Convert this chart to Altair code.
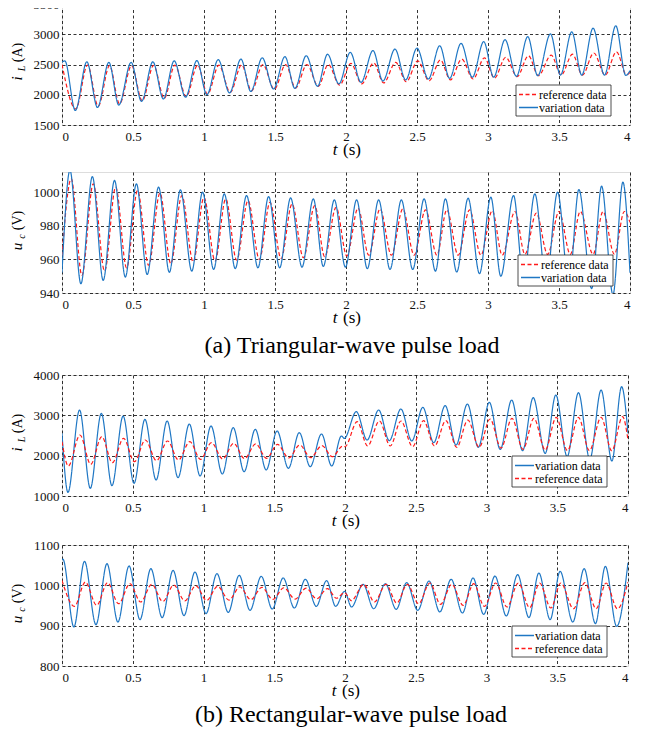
import altair as alt
import pandas as pd

FONT = "'Liberation Serif', 'Times New Roman', Times, serif"
BLUE = "#1f77c4"
RED = "#ff1a1a"
T_TICKS = [0, 0.5, 1, 1.5, 2, 2.5, 3, 3.5, 4]

# ---------------- (a) triangular-wave pulse load : i_L ----------------
a_iL_t_var = [0, 0.02, 0.094, 0.175, 0.25, 0.33, 0.40, 0.487, 0.56, 0.64, 0.714, 0.79, 0.87, 0.95,
              1.02, 1.10, 1.18, 1.26, 1.33, 1.41, 1.49, 1.57, 1.64, 1.72, 1.80, 1.87, 1.95, 2.03,
              2.106, 2.19, 2.26, 2.345, 2.42, 2.50, 2.58, 2.66, 2.73, 2.81, 2.89, 2.97, 3.04, 3.12,
              3.20, 3.28, 3.35, 3.44, 3.51, 3.59, 3.66, 3.74, 3.82, 3.90, 3.97, 4.0]
a_iL_var = [2540, 2560, 1740, 2545, 1790, 2535, 1830, 2535, 1890, 2545, 1930, 2560, 1960, 2565,
            2000, 2580, 2030, 2590, 2055, 2610, 2095, 2630, 2105, 2645, 2140, 2670, 2180, 2700,
            2205, 2730, 2227, 2755, 2245, 2770, 2260, 2810, 2270, 2850, 2290, 2877, 2290, 2910,
            2305, 2960, 2315, 3005, 2325, 3040, 2325, 3100, 2325, 3140, 2320, 2400]
a_iL_t_ref = [0, 0.097, 0.18, 0.255, 0.335, 0.405, 0.49, 0.565, 0.645, 0.72, 0.795, 0.875, 0.955,
              1.025, 1.105, 1.185, 1.265, 1.335, 1.415, 1.495, 1.575, 1.645, 1.725, 1.805, 1.875,
              1.955, 2.035, 2.11, 2.195, 2.265, 2.35, 2.425, 2.505, 2.585, 2.665, 2.735, 2.815,
              2.895, 2.975, 3.045, 3.125, 3.205, 3.285, 3.355, 3.445, 3.515, 3.595, 3.665, 3.745,
              3.825, 3.905, 3.975, 4.0]
a_iL_ref = [2500, 1765, 2490, 1810, 2480, 1850, 2480, 1900, 2485, 1940, 2490, 1970, 2490,
            2010, 2490, 2040, 2495, 2065, 2500, 2090, 2500, 2110, 2500, 2140, 2500,
            2160, 2520, 2180, 2525, 2195, 2535, 2215, 2560, 2230, 2575, 2245, 2590,
            2260, 2610, 2275, 2620, 2300, 2645, 2315, 2655, 2325, 2670, 2325, 2690,
            2325, 2710, 2330, 2370]

# ---------------- (a) triangular-wave pulse load : u_c ----------------
a_uc_t_var = [0, 0.056, 0.133, 0.214, 0.29, 0.37, 0.446, 0.524, 0.60, 0.68, 0.756, 0.834, 0.914,
              0.99, 1.068, 1.143, 1.22, 1.30, 1.38, 1.455, 1.533, 1.61, 1.69, 1.77, 1.84, 1.918,
              1.996, 2.075, 2.15, 2.23, 2.31, 2.39, 2.47, 2.55, 2.63, 2.70, 2.78, 2.86, 2.94,
              3.02, 3.09, 3.18, 3.25, 3.33, 3.41, 3.49, 3.57, 3.64, 3.73, 3.80, 3.88, 3.95, 4.0]
a_uc_var = [952, 1013, 945.5, 1009.3, 947.5, 1007, 949.5, 1005, 951, 1003, 952.3, 1001.4, 953,
            1000, 954, 999, 954.5, 998, 955, 997.4, 955, 996.6, 955.4, 996, 955.8, 995.4,
            955.4, 995.4, 954.5, 995.4, 954, 995.4, 954, 996, 953, 996, 952.5, 996.4, 951.5,
            997, 950, 998, 948.5, 999, 947, 1000, 945, 1001.6, 942.6, 1003.6, 939, 1006, 952]
a_uc_t_ref = [0, 0.065, 0.14, 0.22, 0.30, 0.378, 0.455, 0.532, 0.61, 0.69, 0.766, 0.844, 0.924,
              1.0, 1.078, 1.153, 1.23, 1.31, 1.39, 1.465, 1.543, 1.62, 1.70, 1.78, 1.85, 1.93,
              2.006, 2.085, 2.16, 2.24, 2.32, 2.40, 2.48, 2.56, 2.64, 2.71, 2.79, 2.87, 2.95,
              3.03, 3.10, 3.19, 3.26, 3.34, 3.42, 3.50, 3.58, 3.65, 3.74, 3.81, 3.89, 3.96, 4.0]
a_uc_ref = [962, 1008, 950.5, 1005, 953, 1003, 955, 1001, 956.5, 999.5, 957.5, 998, 958.5,
            997, 959, 996, 959.5, 995, 960, 994, 960.5, 993, 961, 992, 961.5, 991,
            962, 990.5, 962.5, 990, 962.5, 990, 962.5, 989.5, 962.5, 989.5, 962.5, 989.5, 962.5,
            989, 962.5, 988.5, 963, 987.5, 963, 988.5, 963, 988.5, 963, 988.5, 963, 988.5, 982]

# ---------------- (b) rectangular-wave pulse load : i_L ----------------
b_iL_t_var = [0, 0.042, 0.124, 0.2, 0.278, 0.353, 0.432, 0.509, 0.586, 0.665, 0.743, 0.82, 0.9,
              0.976, 1.053, 1.133, 1.21, 1.287, 1.366, 1.443, 1.52, 1.6, 1.677, 1.754, 1.834,
              1.906, 1.975, 1.995, 2.08, 2.156, 2.238, 2.313, 2.395, 2.472, 2.55, 2.627, 2.708,
              2.785, 2.865, 2.942, 3.02, 3.097, 3.178, 3.255, 3.33, 3.415, 3.49, 3.57, 3.65,
              3.73, 3.81, 3.886, 3.955, 4.0]
b_iL_var = [2553, 1090, 3132, 1190, 3050, 1256, 2983, 1314, 2900, 1397, 2860, 1455, 2785,
            1496, 2736, 1545, 2694, 1603, 2653, 1645, 2612, 1686, 2570, 1727, 2537,
            1744, 2488, 2430, 3091, 2388, 3132, 2372, 3157, 2364, 3198, 2322, 3240,
            2264, 3281, 2207, 3322, 2157, 3380, 2124, 3438, 2058, 3504, 1975, 3562,
            1909, 3628, 1868, 3711, 2553]
b_iL_t_ref = [0, 0.045, 0.127, 0.203, 0.281, 0.356, 0.435, 0.512, 0.589, 0.668, 0.746, 0.823,
              0.903, 0.979, 1.056, 1.136, 1.213, 1.29, 1.369, 1.446, 1.523, 1.603, 1.68, 1.757,
              1.837, 1.91, 1.985, 2.0, 2.086, 2.16, 2.243, 2.32, 2.395, 2.478, 2.555, 2.633,
              2.713, 2.79, 2.868, 2.948, 3.025, 3.103, 3.18, 3.258, 3.335, 3.415, 3.493, 3.572,
              3.65, 3.727, 3.81, 3.885, 3.962, 4.0]
b_iL_ref = [2347, 1744, 2512, 1785, 2471, 1826, 2430, 1851, 2388, 1876, 2364, 1893,
            2347, 1909, 2322, 1917, 2306, 1926, 2290, 1934, 2281, 1942, 2264, 1950,
            2248, 1975, 2240, 2225, 2843, 2240, 2860, 2240, 2860, 2223, 2868, 2240,
            2868, 2207, 2884, 2207, 2909, 2190, 2926, 2157, 2926, 2140, 2950, 2124,
            2950, 2124, 2950, 2124, 2967, 2388]

# ---------------- (b) rectangular-wave pulse load : u_c ----------------
b_uc_t_var = [0, 0.006, 0.084, 0.159, 0.24, 0.318, 0.395, 0.474, 0.551, 0.628, 0.708, 0.785,
              0.862, 0.94, 1.018, 1.095, 1.175, 1.252, 1.329, 1.408, 1.486, 1.563, 1.642, 1.72,
              1.797, 1.87, 1.934, 1.997, 2.046, 2.128, 2.203, 2.285, 2.362, 2.436, 2.514, 2.594,
              2.67, 2.75, 2.83, 2.905, 2.98, 3.06, 3.14, 3.22, 3.30, 3.37, 3.45, 3.52, 3.61,
              3.69, 3.77, 3.84, 3.92, 4.0]
b_uc_var = [1063, 1065, 896.7, 1059.5, 902.5, 1053.7, 909, 1048, 915, 1041.3, 920, 1037,
            925, 1033, 930, 1029, 933, 1024.8, 938, 1022.3, 941.3, 1018.2, 943.8, 1015,
            948, 1011.5, 948, 985, 946.3, 1002.5, 942, 1004, 940.5, 1006.6, 938, 1010.7,
            934, 1015, 931.4, 1018.2, 928, 1023, 924, 1026.4, 920, 1030.6, 915, 1034.7, 909,
            1041.3, 905, 1047, 898.3, 1056]
b_uc_t_ref = [0, 0.088, 0.165, 0.245, 0.322, 0.40, 0.48, 0.556, 0.634, 0.712, 0.79, 0.868,
              0.946, 1.022, 1.10, 1.18, 1.257, 1.334, 1.413, 1.49, 1.568, 1.647, 1.725, 1.80,
              1.875, 1.94, 1.997, 2.045, 2.132, 2.208, 2.29, 2.366, 2.44, 2.52, 2.60, 2.675,
              2.755, 2.835, 2.91, 2.985, 3.065, 3.145, 3.225, 3.305, 3.375, 3.455, 3.525, 3.615,
              3.695, 3.775, 3.845, 3.925, 4.0]
b_uc_ref = [1012, 948, 1008, 950.4, 1006.6, 954.5, 1004, 958.7, 1002.5, 960, 1000.5, 961.5,
            999, 962.5, 997.5, 963.5, 996, 964.5, 995, 965, 994, 966, 993, 966.5,
            992, 968, 982, 962, 1002.5, 958.7, 1002.5, 956, 1002.5, 954.5, 1005.8, 953,
            1002.5, 950.4, 1004, 948, 1005.8, 946.3, 1005.8, 944.6, 1005.8, 943.8, 1005.8, 942,
            1006.6, 942, 1005.8, 942, 1008]

COLORS = {"reference data": RED, "variation data": BLUE}
DASHES = {"reference data": [4, 2.5], "variation data": [1, 0]}
ONE = alt.Data(values=[{}])


def txt(text, x, y, size, italic=False, angle=0, baseline="middle", align="center"):
    return alt.Chart(ONE).mark_text(
        text=text, font=FONT, fontSize=size, fontStyle="italic" if italic else "normal",
        angle=angle, align=align, baseline=baseline, color="black"
    ).encode(x=alt.value(x), y=alt.value(y))


def legend_layers(x0, y0, entries):
    out = [alt.Chart(ONE).mark_rect(fill="white", stroke="#222", strokeWidth=0.8).encode(
        x=alt.value(x0), x2=alt.value(x0 + 95), y=alt.value(y0), y2=alt.value(y0 + 31))]
    for i, name in enumerate(entries):
        yy = y0 + 9.5 + 13 * i
        out.append(alt.Chart(ONE).mark_rule(strokeWidth=1.5).encode(
            x=alt.value(x0 + 3), x2=alt.value(x0 + 22), y=alt.value(yy),
            color=alt.value(COLORS[name]), strokeDash=alt.value(DASHES[name])))
        out.append(txt(name, x0 + 23, yy, 12, align="left"))
    return out


def panel(t_var, y_var, t_ref, y_ref, ydom, yticks, order, width, height,
          ymain, ysub, yunit, tx, legxy, caption=None, cap_dy=57):
    rows = []
    for name in order:
        ts, ys = (t_var, y_var) if name == "variation data" else (t_ref, y_ref)
        rows += [{"t": a, "v": b, "series": name} for a, b in zip(ts, ys)]
    df = pd.DataFrame(rows)
    axis_common = dict(title=None, grid=True, gridColor="black", gridDash=[3, 2.5],
                       gridWidth=0.8, gridOpacity=1, ticks=False, domain=False,
                       labelFont=FONT, labelFontSize=13, labelColor="#111")
    lines = alt.Chart(df).mark_line(interpolate="monotone", strokeWidth=1.2, clip=True).encode(
        x=alt.X("t:Q", scale=alt.Scale(domain=[0, 4], nice=False, zero=False),
                axis=alt.Axis(values=T_TICKS, format="~g", labelPadding=5, **axis_common)),
        y=alt.Y("v:Q", scale=alt.Scale(domain=ydom, nice=False, zero=False),
                axis=alt.Axis(values=yticks, format="d", labelPadding=3, **axis_common)),
        color=alt.Color("series:N", scale=alt.Scale(domain=order,
                        range=[COLORS[o] for o in order]), legend=None),
        strokeDash=alt.StrokeDash("series:N", scale=alt.Scale(domain=order,
                                  range=[DASHES[o] for o in order]), legend=None),
    )
    h2 = height / 2
    layers = [
        lines,
        txt(ymain, tx, h2 + 14, 15, italic=True, angle=270),
        txt(ysub, tx + 5, h2 + 4, 10, italic=True, angle=270),
        txt(yunit, tx + 1, h2 - 12, 14, angle=270),
        txt("t", width / 2 - 11, height + 30, 17, italic=True, baseline="alphabetic"),
        txt("(s)", width / 2 + 6, height + 30, 17, baseline="alphabetic"),
    ]
    layers += legend_layers(legxy[0], legxy[1], order)
    if caption:
        layers.append(txt(caption, width / 2 + 6, height + cap_dy, 24, baseline="alphabetic"))
    return alt.layer(*layers).properties(width=width, height=height)


REF_FIRST = ["reference data", "variation data"]
VAR_FIRST = ["variation data", "reference data"]

p1 = panel(a_iL_t_var, a_iL_var, a_iL_t_ref, a_iL_ref, [1500, 3500],
           [1500, 2000, 2500, 3000, 3500], REF_FIRST, 568, 121, "i", "L", "(A)", -45, (454, 81))
p2 = panel(a_uc_t_var, a_uc_var, a_uc_t_ref, a_uc_ref, [940, 1012],
           [940, 960, 980, 1000], REF_FIRST, 568, 121, "u", "c", "(V)", -45, (456, 83),
           caption="(a) Triangular-wave pulse load", cap_dy=60)
p3 = panel(b_iL_t_var, b_iL_var, b_iL_t_ref, b_iL_ref, [1000, 4000],
           [1000, 2000, 3000, 4000], VAR_FIRST, 566, 121, "i", "L", "(A)", -45, (450, 81))
p4 = panel(b_uc_t_var, b_uc_var, b_uc_t_ref, b_uc_ref, [800, 1100],
           [800, 900, 1000, 1100], VAR_FIRST, 566, 121, "u", "c", "(V)", -45, (450, 81),
           caption="(b) Rectangular-wave pulse load", cap_dy=56)

RES = dict(x="independent", y="independent", color="independent", strokeDash="independent")

top = alt.vconcat(p1, p2, spacing=12).resolve_scale(**RES)
bottom = alt.vconcat(p3, p4, spacing=8).resolve_scale(**RES)

chart = alt.vconcat(top, bottom, spacing=9).resolve_scale(**RES).properties(
    padding={"left": 1, "top": -11, "right": 0, "bottom": 0}
).configure_view(stroke="black", strokeWidth=1.2).configure(background="white")

chart.save("out.html", embed_options={"renderer": "svg", "actions": False})
